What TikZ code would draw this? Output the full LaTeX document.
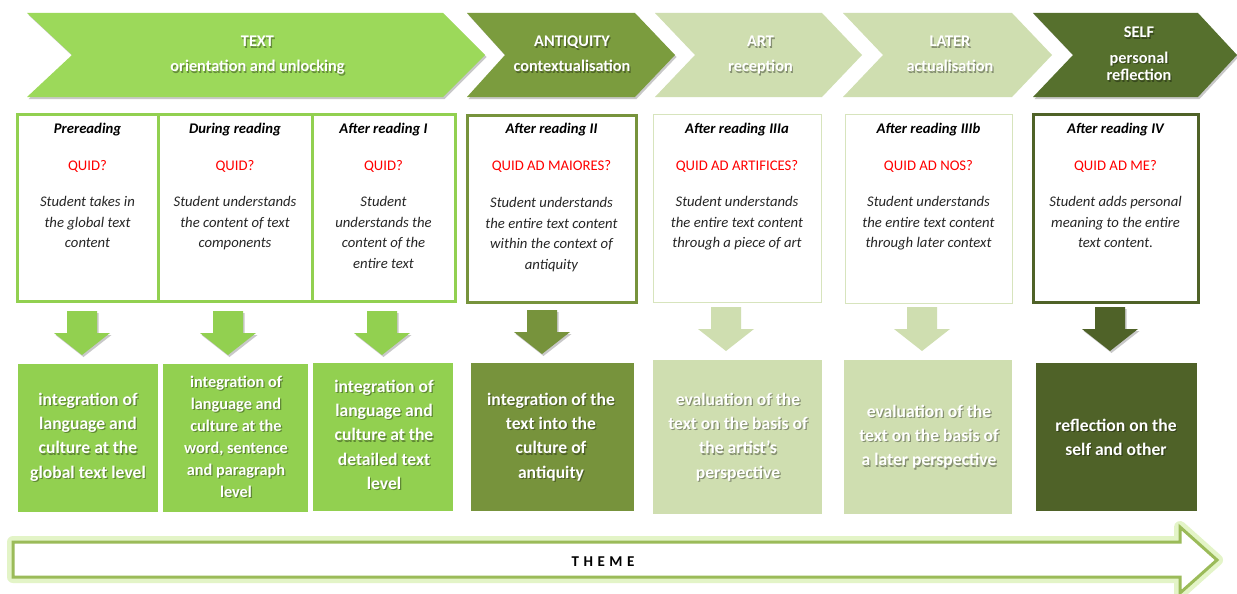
\documentclass[tikz,border=0pt]{standalone}
\usepackage{fontspec}
\setmainfont{Carlito}
\usetikzlibrary{shadows,calc}
\definecolor{lg}{HTML}{9CD95A}
\definecolor{lgb}{HTML}{92D050}
\definecolor{og}{HTML}{7B9C3E}
\definecolor{ogb}{HTML}{77933C}
\definecolor{pg}{HTML}{CFDEB0}
\definecolor{pgl}{HTML}{D7E4BD}
\definecolor{dg}{HTML}{56702D}
\definecolor{dgb}{HTML}{4F6228}
\definecolor{thm}{HTML}{9BBB59}
\definecolor{glowc}{HTML}{CDEB9A}
\definecolor{qred}{HTML}{FF0000}
\definecolor{dtext}{HTML}{262626}
\newcommand\fchev{\fontsize{16.3}{25}\selectfont\bfseries}
\newcommand\fhead{\fontsize{14.7}{20.7}\selectfont\bfseries\itshape}
\newcommand\fquid{\fontsize{14.7}{20.7}\selectfont}
\newcommand\fdesc{\fontsize{14.7}{20.7}\selectfont\itshape}
\newcommand\fbot{\fontsize{17.6}{24.4}\selectfont\bfseries}
\newcommand\fbotb{\fontsize{16.3}{22}\selectfont\bfseries}
\newcommand\ptx[2]{\parbox[t]{220pt}{\centering#1#2}}
\newcommand\chev[5]{\path[#5] (#1,13) -- (#3,13) -- (#4,55) -- (#3,97) -- (#1,97) -- (#2,55) -- cycle;}
\newcommand\darrow[3]{\path[#3] (#1-15,#2) -- (#1+15,#2) -- (#1+15,#2+22) -- (#1+28,#2+22) -- (#1,#2+44) -- (#1-28,#2+22) -- (#1-15,#2+22) -- cycle;}
\newcommand\shnode[3]{%
  \node[txt, text=black, text opacity=0.35] at ($(#2)+(1.2,1.2)$) {#3};
  \node[txt, text=white] (#1) at (#2) {#3};}
\begin{document}
\begin{tikzpicture}[x=1pt,y=-1pt,
  txt/.style={anchor=base, inner sep=0pt},
  shd/.style={drop shadow={shadow xshift=1.5pt, shadow yshift=-2pt, opacity=0.3, fill=black!70}},
  wbox/.style={draw=white, line width=3pt, shd},
  midthick/.style={line width=3pt},
  midthin/.style={line width=1pt, draw=pgl}]
\useasboundingbox (0,0) rectangle (1237,594);
\fill[white] (0,0) rectangle (1237,594);
% ---------- chevrons
\chev{27}{72}{443}{485}{fill=lg, shd}
\chev{467}{505}{635}{675}{fill=og, shd}
\chev{655}{695}{822}{862}{fill=pg}
\chev{843}{883}{1012}{1052}{fill=pg}
\chev{1033}{1073}{1198}{1237}{fill=dg, shd}
\shnode{c1}{257.5,47}{\ptx{\fchev}{TEXT\\orientation and unlocking}}
\shnode{c2}{572,47}{\ptx{\fchev}{ANTIQUITY\\contextualisation}}
\shnode{c3}{760.5,47}{\ptx{\fchev}{ART\\reception}}
\shnode{c4}{950,47}{\ptx{\fchev}{LATER\\actualisation}}
\shnode{c5}{1139,38}{\ptx{\fchev\baselineskip=18pt}{SELF\\[7pt]personal\\reflection}}
% ---------- middle boxes
\draw[midthick, draw=lgb] (17,114) rectangle (158,301);
\draw[midthick, draw=lgb] (158,114) rectangle (312,301);
\draw[midthick, draw=lgb] (312,114) rectangle (455,301);
\draw[midthick, draw=ogb] (467,115) rectangle (636,302);
\draw[midthin] (653,114) rectangle (821,302);
\draw[midthin] (845,114) rectangle (1012,303);
\draw[midthick, draw=dgb] (1033,114) rectangle (1198,302);
\foreach \n/\x/\h/\q in {1/87.5/Prereading/QUID?, 2/235/During reading/QUID?, 3/383.5/After reading I/QUID?, 4/551.5/After reading II/QUID AD MAIORES?, 5/737/After reading IIIa/QUID AD ARTIFICES?, 6/928.5/After reading IIIb/QUID AD NOS?, 7/1115.5/After reading IV/QUID AD ME?}{
  \node[txt, text=black] (h\n) at (\x,133.5) {\fhead \h};
  \node[txt, text=qred] (q\n) at (\x,170.7) {\fquid \q};
}
\node[txt, text=dtext] (d1) at (87.5,206.5) {\ptx{\fdesc}{Student takes in\\the global text\\content}};
\node[txt, text=dtext] (d2) at (235,206.5) {\ptx{\fdesc}{Student understands\\the content of text\\components}};
\node[txt, text=dtext] (d3) at (383.5,206.5) {\ptx{\fdesc}{Student\\understands the\\content of the\\entire text}};
\node[txt, text=dtext] (d4) at (551.5,207.5) {\ptx{\fdesc}{Student understands\\the entire text content\\within the context of\\antiquity}};
\node[txt, text=dtext] (d5) at (737,206.5) {\ptx{\fdesc}{Student understands\\the entire text content\\through a piece of art}};
\node[txt, text=dtext] (d6) at (928.5,206.5) {\ptx{\fdesc}{Student understands\\the entire text content\\through later context}};
\node[txt, text=dtext] (d7) at (1115.5,206.5) {\ptx{\fdesc}{Student adds personal\\meaning to the entire\\text content.}};
% ---------- down arrows
\darrow{82}{311}{fill=lgb, shd}
\darrow{228}{311}{fill=lgb, shd}
\darrow{382}{311}{fill=lgb, shd}
\darrow{542}{310}{fill=ogb, shd}
\darrow{726}{307}{fill=pg}
\darrow{922}{307}{fill=pg}
\darrow{1110}{307}{fill=dgb, shd}
% ---------- bottom boxes
\path[wbox, fill=lgb] (16,362) rectangle (159,513);
\path[wbox, fill=lgb] (161,362) rectangle (309,513);
\path[wbox, fill=lgb] (311,361) rectangle (454,512);
\path[wbox, fill=ogb] (469,361) rectangle (635,512);
\fill[pg] (653,360) rectangle (822,514);
\fill[pg] (844,360) rectangle (1012,514);
\path[wbox, fill=dgb] (1034,361) rectangle (1198,512);
\shnode{b1}{88,405}{\ptx{\fbot}{integration of\\language and\\culture at the\\global text level}}
\shnode{b2}{236,387}{\ptx{\fbotb}{integration of\\language and\\culture at the\\word, sentence\\and paragraph\\level}}
\shnode{b3}{384,392}{\ptx{\fbot}{integration of\\language and\\culture at the\\detailed text\\level}}
\shnode{b4}{551,405}{\ptx{\fbot}{integration of the\\text into the\\culture of\\antiquity}}
\shnode{b5}{738,405}{\ptx{\fbot}{evaluation of the\\text on the basis of\\the artist’s\\perspective}}
\shnode{b6}{929,417}{\ptx{\fbot}{evaluation of the\\text on the basis of\\a later perspective}}
\shnode{b7}{1116,431}{\ptx{\fbot}{reflection on the\\self and other}}
% ---------- theme arrow
\path[draw=glowc, line width=12pt, opacity=0.55, line join=round]
  (13,542) -- (1180,542) -- (1180,527) -- (1217,560) -- (1180,593) -- (1180,577) -- (13,577) -- cycle;
\path[draw=thm, fill=white, line width=3pt, line join=miter]
  (13,542) -- (1180,542) -- (1180,527) -- (1217,560) -- (1180,593) -- (1180,577) -- (13,577) -- cycle;
\node[txt, text=black] (theme) at (603,566) {\fontsize{15}{18}\selectfont\bfseries T\hspace{4.5pt}H\hspace{4.5pt}E\hspace{4.5pt}M\hspace{4.5pt}E};
\end{tikzpicture}
\end{document}
